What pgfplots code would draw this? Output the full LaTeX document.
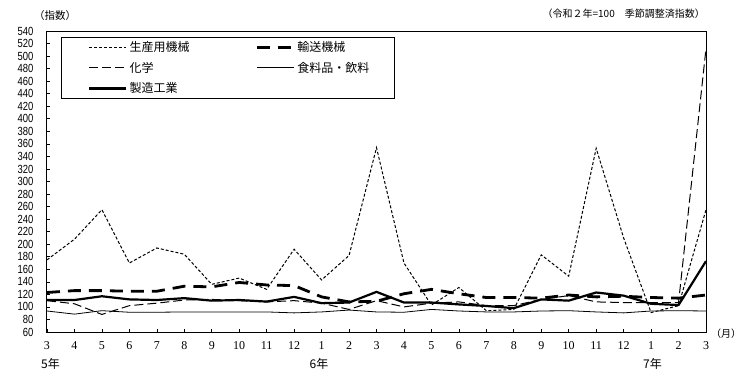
\documentclass[border=0pt]{standalone}
\usepackage{pgfplots}
\pgfplotsset{compat=1.18}
\usepackage{fontspec}
\setmainfont{Liberation Serif}
\newfontfamily\jp{Noto Sans CJK JP}
\newfontfamily\narrow[FakeStretch=0.8]{Liberation Sans}

\pgfplotstableread{
i mach trans chem food mfg
0 175 123 110 93.5 111
1 208 126 105 88.5 111
2 255 126 88 94 117
3 170 125 102 91.5 112
4 194 125 106 91.5 111
5 184 133 111 92 114
6 136 132 112 92 110
7 146 139 110 92 111
8 128 135 108 92 108.5
9 192 134 110 90.5 116
10 143 116 106 92 106
11 182 108 96 95 107
12 354 109 110 92 124
13 170 121 100 91.5 107
14 103 128 106 96 107
15 131 121 108 93.5 104
16 94 115 102 92 101.5
17 96 115 102 92 98
18 183 114 112 93.5 112
19 149 119 118 94 110
20 353 116 108 92 123
21 210 117 107 90.5 118
22 91 115 107 93.5 105
23 102 114 107 94 103
24 255 119 512 93.5 173
}\datatable

\begin{document}
\begin{tikzpicture}[x=1pt,y=1pt]
\path[use as bounding box] (0,0) rectangle (746,378);
\begin{axis}[
  at={(47pt,46pt)}, anchor=south west,
  width=659pt, height=301pt, scale only axis,
  xmin=0, xmax=24, ymin=60, ymax=540,
  xtick={0,...,24},
  xticklabels={3,4,5,6,7,8,9,10,11,12,1,2,3,4,5,6,7,8,9,10,11,12,1,2,3},
  ytick={60,80,...,540},
  tick pos=left, tick align=inside,
  major tick length=3.5pt,
  axis line style={line width=1pt},
  every tick/.style={black, line width=0.6pt},
  yticklabel style={font=\narrow\fontsize{11.8}{11.8}\selectfont, /pgf/number format/assume math mode=true, anchor=east, xshift=-10pt},
  xticklabel style={font=\fontsize{12}{12}\selectfont, anchor=north, yshift=-6pt},
  legend style={
    at={(axis description cs:0.02124,0.980)}, anchor=north west,
    draw=black, line width=0.8pt,
    inner xsep=27pt, inner ysep=4pt,
    column sep=2pt, row sep=9pt,
    font=\jp\fontsize{12}{12}\selectfont,
    nodes={inner sep=0pt},
  },
  legend columns=2,
  legend cell align=left,
  legend image code/.code={\draw[#1] (0pt,0pt) -- (37pt,0pt);},
]
\addplot[black, line width=1pt, dash pattern=on 3pt off 2pt] table[x=i,y=mach]{\datatable};
\addlegendentry{\makebox[124pt][l]{生産用機械}}
\addplot[black, line width=2.8pt, dash pattern=on 13pt off 8pt] table[x=i,y=trans]{\datatable};
\addlegendentry{\makebox[70pt][l]{輸送機械}}
\addplot[black, line width=1pt, dash pattern=on 9pt off 4pt] table[x=i,y=chem]{\datatable};
\addlegendentry{\makebox[124pt][l]{化学}}
\addplot[black, line width=0.8pt] table[x=i,y=food]{\datatable};
\addlegendentry{\makebox[70pt][l]{食料品・飲料}}
\addplot[black, line width=2.2pt] table[x=i,y=mfg]{\datatable};
\addlegendentry{\makebox[124pt][l]{製造工業}}
\end{axis}
\node[font=\jp\fontsize{12}{12}\selectfont] at (50.5,14) {5年};
\node[font=\jp\fontsize{12}{12}\selectfont] at (319,14) {6年};
\node[font=\jp\fontsize{12}{12}\selectfont] at (652.5,14) {7年};
\node[font=\jp\fontsize{10}{10}\selectfont] at (726,44) {（月）};
\node[font=\jp\fontsize{10.5}{10.5}\selectfont] at (55,362) {（指数）};
\node[font=\jp\fontsize{10}{10}\selectfont, anchor=east, inner sep=0pt] at (705,364) {（令和２年=100　季節調整済指数）};
\end{tikzpicture}
\end{document}
